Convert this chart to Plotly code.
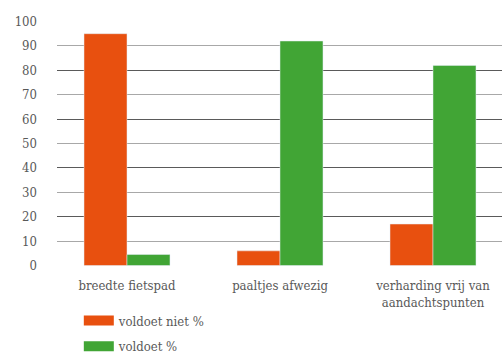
import plotly.graph_objects as go

categories = ["breedte fietspad", "paaltjes afwezig", "verharding vrij van<br>aandachtspunten"]
voldoet_niet = [95, 6, 17]
voldoet = [4.5, 92, 82]
series_names = ["voldoet niet %", "voldoet %"]
y_ticks = list(range(0, 101, 10))

ORANGE = "#E8500F"
GREEN = "#41A535"
TEXT = "#595959"
FONT = "DejaVu Serif Condensed"
Y_RANGE = [-0.2, 100.2]

fig = go.Figure()
fig.add_trace(go.Bar(x=categories, y=voldoet_niet, name=series_names[0],
                     marker_color=ORANGE, showlegend=False))
fig.add_trace(go.Bar(x=categories, y=voldoet, name=series_names[1],
                     marker_color=GREEN, showlegend=False))
# legend entries (wide swatches)
for nm, col in zip(series_names, [ORANGE, GREEN]):
    fig.add_trace(go.Scatter(x=[None], y=[None], mode="lines", name=nm,
                             line=dict(color=col, width=10), yaxis="y2",
                             legendgroup=nm, hoverinfo="skip"))

fig.update_layout(
    width=502, height=354,
    margin=dict(l=57, r=0, t=21, b=88, autoexpand=False),
    paper_bgcolor="white", plot_bgcolor="white",
    barmode="group", bargap=0.438, bargroupgap=0,
    font=dict(family=FONT, size=13, color=TEXT),
    xaxis=dict(type="category", range=[-0.4575, 2.451], showgrid=False,
               showline=False, zeroline=False, ticks="",
               ticklabelstandoff=10, tickfont=dict(size=13, color=TEXT)),
    yaxis=dict(range=Y_RANGE, tickvals=y_ticks, showgrid=True,
               gridcolor="#a8a8a8", gridwidth=1, zeroline=False,
               showline=False, ticks="", ticklabelstandoff=19,
               tickfont=dict(size=13, color=TEXT)),
    yaxis2=dict(range=Y_RANGE, overlaying="y", dtick=20, tick0=0,
                showgrid=True, gridcolor="#5a5a5a", gridwidth=1,
                showticklabels=False, zeroline=False, showline=False,
                ticks=""),
    legend=dict(orientation="v", xref="container", yref="container",
                x=0.157, xanchor="left", y=0.137, yanchor="top",
                tracegroupgap=6, bgcolor="rgba(0,0,0,0)",
                font=dict(size=13, color=TEXT), itemclick=False),
    showlegend=True,
)

fig.write_html("out.html")
